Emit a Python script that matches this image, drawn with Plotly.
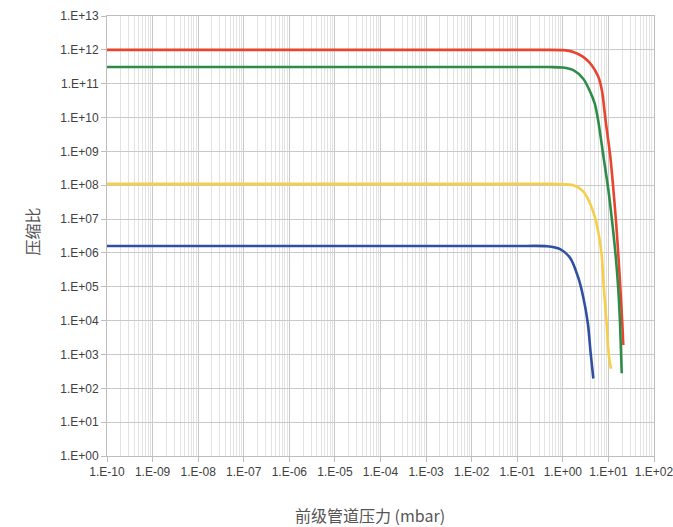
import plotly.graph_objects as go

# Foreline pressure (mbar) and compression ratio for each gas curve
red_p = [1e-10, 1e-8, 1e-6, 1e-4, 1e-2, 0.1, 0.4, 1.0, 1.7, 2.8, 4.3, 6.0, 7.2, 8.7,
         11.0, 12.9, 14.8, 16.6, 18.4, 20.2, 21.2]
red_k = [1.0e12, 1.0e12, 1.0e12, 1.0e12, 1.0e12, 1.0e12, 1.0e12, 9.8e11, 8.7e11, 6.2e11,
         3.5e11, 1.6e11, 6.3e10, 7.9e9, 7.1e8, 7.1e7, 7.4e6, 7.6e5, 7.9e4, 8.1e3, 1.9e3]

green_p = [1e-10, 1e-8, 1e-6, 1e-4, 1e-2, 0.1, 0.5, 1.0, 1.7, 2.8, 3.8, 5.0, 5.9, 7.8,
           10.0, 12.2, 14.5, 16.5, 18.0, 19.6]
green_k = [3.1e11, 3.1e11, 3.1e11, 3.1e11, 3.1e11, 3.1e11, 3.1e11, 3.0e11, 2.5e11, 1.4e11,
           6.6e10, 2.6e10, 8.9e9, 6.9e8, 7.1e7, 7.4e6, 7.6e5, 7.9e4, 8.1e3, 2.8e2]

yellow_p = [1e-10, 1e-8, 1e-6, 1e-4, 1e-2, 0.1, 0.5, 1.0, 1.7, 2.8, 4.0, 5.2, 6.3, 7.1,
            7.9, 9.1, 10.3, 11.4]
yellow_k = [1.1e8, 1.1e8, 1.1e8, 1.1e8, 1.1e8, 1.1e8, 1.1e8, 1.07e8, 1.0e8, 6.6e7, 2.8e7,
            1.0e7, 2.8e6, 8.9e5, 1.0e5, 8.9e3, 8.5e2, 3.8e2]

blue_p = [1e-10, 1e-8, 1e-6, 1e-4, 1e-2, 0.1, 0.45, 0.87, 1.45, 2.2, 2.8, 3.55, 4.1, 4.67]
blue_k = [1.6e6, 1.6e6, 1.6e6, 1.6e6, 1.6e6, 1.6e6, 1.58e6, 1.3e6, 7.1e5, 1.8e5, 5.0e4,
          8.1e3, 1.0e3, 1.95e2]

x_tick_vals = [10.0 ** e for e in range(-10, 3)]
x_tick_text = ["1.E-10", "1.E-09", "1.E-08", "1.E-07", "1.E-06", "1.E-05", "1.E-04",
               "1.E-03", "1.E-02", "1.E-01", "1.E+00", "1.E+01", "1.E+02"]
y_tick_vals = [10.0 ** e for e in range(0, 14)]
y_tick_text = ["1.E+00", "1.E+01", "1.E+02", "1.E+03", "1.E+04", "1.E+05", "1.E+06",
               "1.E+07", "1.E+08", "1.E+09", "1.E+10", "1.E+11", "1.E+12", "1.E+13"]

series = [
    (red_p, red_k, "#e8442e"),
    (green_p, green_k, "#2f8c48"),
    (yellow_p, yellow_k, "#f6cf4a"),
    (blue_p, blue_k, "#2f4f9f"),
]

fig = go.Figure()
for p, k, c in series:
    fig.add_trace(go.Scatter(
        x=p, y=k, mode="lines",
        line=dict(color=c, width=2.6, shape="spline", smoothing=0.8),
        showlegend=False, hoverinfo="skip",
    ))

tick_font = dict(family="Liberation Sans, Arial, sans-serif", size=12, color="#404040")

fig.update_xaxes(
    type="log", range=[-10, 2], automargin=False,
    tickvals=x_tick_vals, ticktext=x_tick_text, tickfont=tick_font,
    ticklabeloverflow="allow",
    ticks="outside", ticklen=5, tickcolor="#bdbdbd",
    showgrid=True, gridcolor="#c9c9c9", gridwidth=1,
    minor=dict(dtick="D1", showgrid=True, gridcolor="#e3e3e3", gridwidth=1, ticks=""),
    showline=True, linecolor="#bdbdbd", linewidth=1, mirror=True,
    zeroline=False,
)
fig.update_yaxes(
    type="log", range=[0, 13], automargin=False,
    tickvals=y_tick_vals, ticktext=y_tick_text, tickfont=tick_font,
    ticklabeloverflow="allow",
    ticks="outside", ticklen=5, tickcolor="#bdbdbd",
    showgrid=True, gridcolor="#c9c9c9", gridwidth=1,
    showline=True, linecolor="#bdbdbd", linewidth=1, mirror=True,
    zeroline=False,
)

title_font = dict(family="Noto Sans CJK SC, sans-serif", size=16, color="#555555")
fig.add_annotation(
    text="前级管道压力 (mbar)", xref="paper", yref="paper",
    x=0.481, y=-0.134, yanchor="middle", showarrow=False, font=title_font,
)
fig.add_annotation(
    text="压缩比", xref="paper", yref="paper",
    x=-0.163, y=0.51, textangle=-90, showarrow=False, font=title_font,
)

fig.update_layout(
    width=673, height=527,
    margin=dict(l=107, r=19, t=16, b=71, autoexpand=False),
    paper_bgcolor="white", plot_bgcolor="white",
)

fig.write_html("out.html")
